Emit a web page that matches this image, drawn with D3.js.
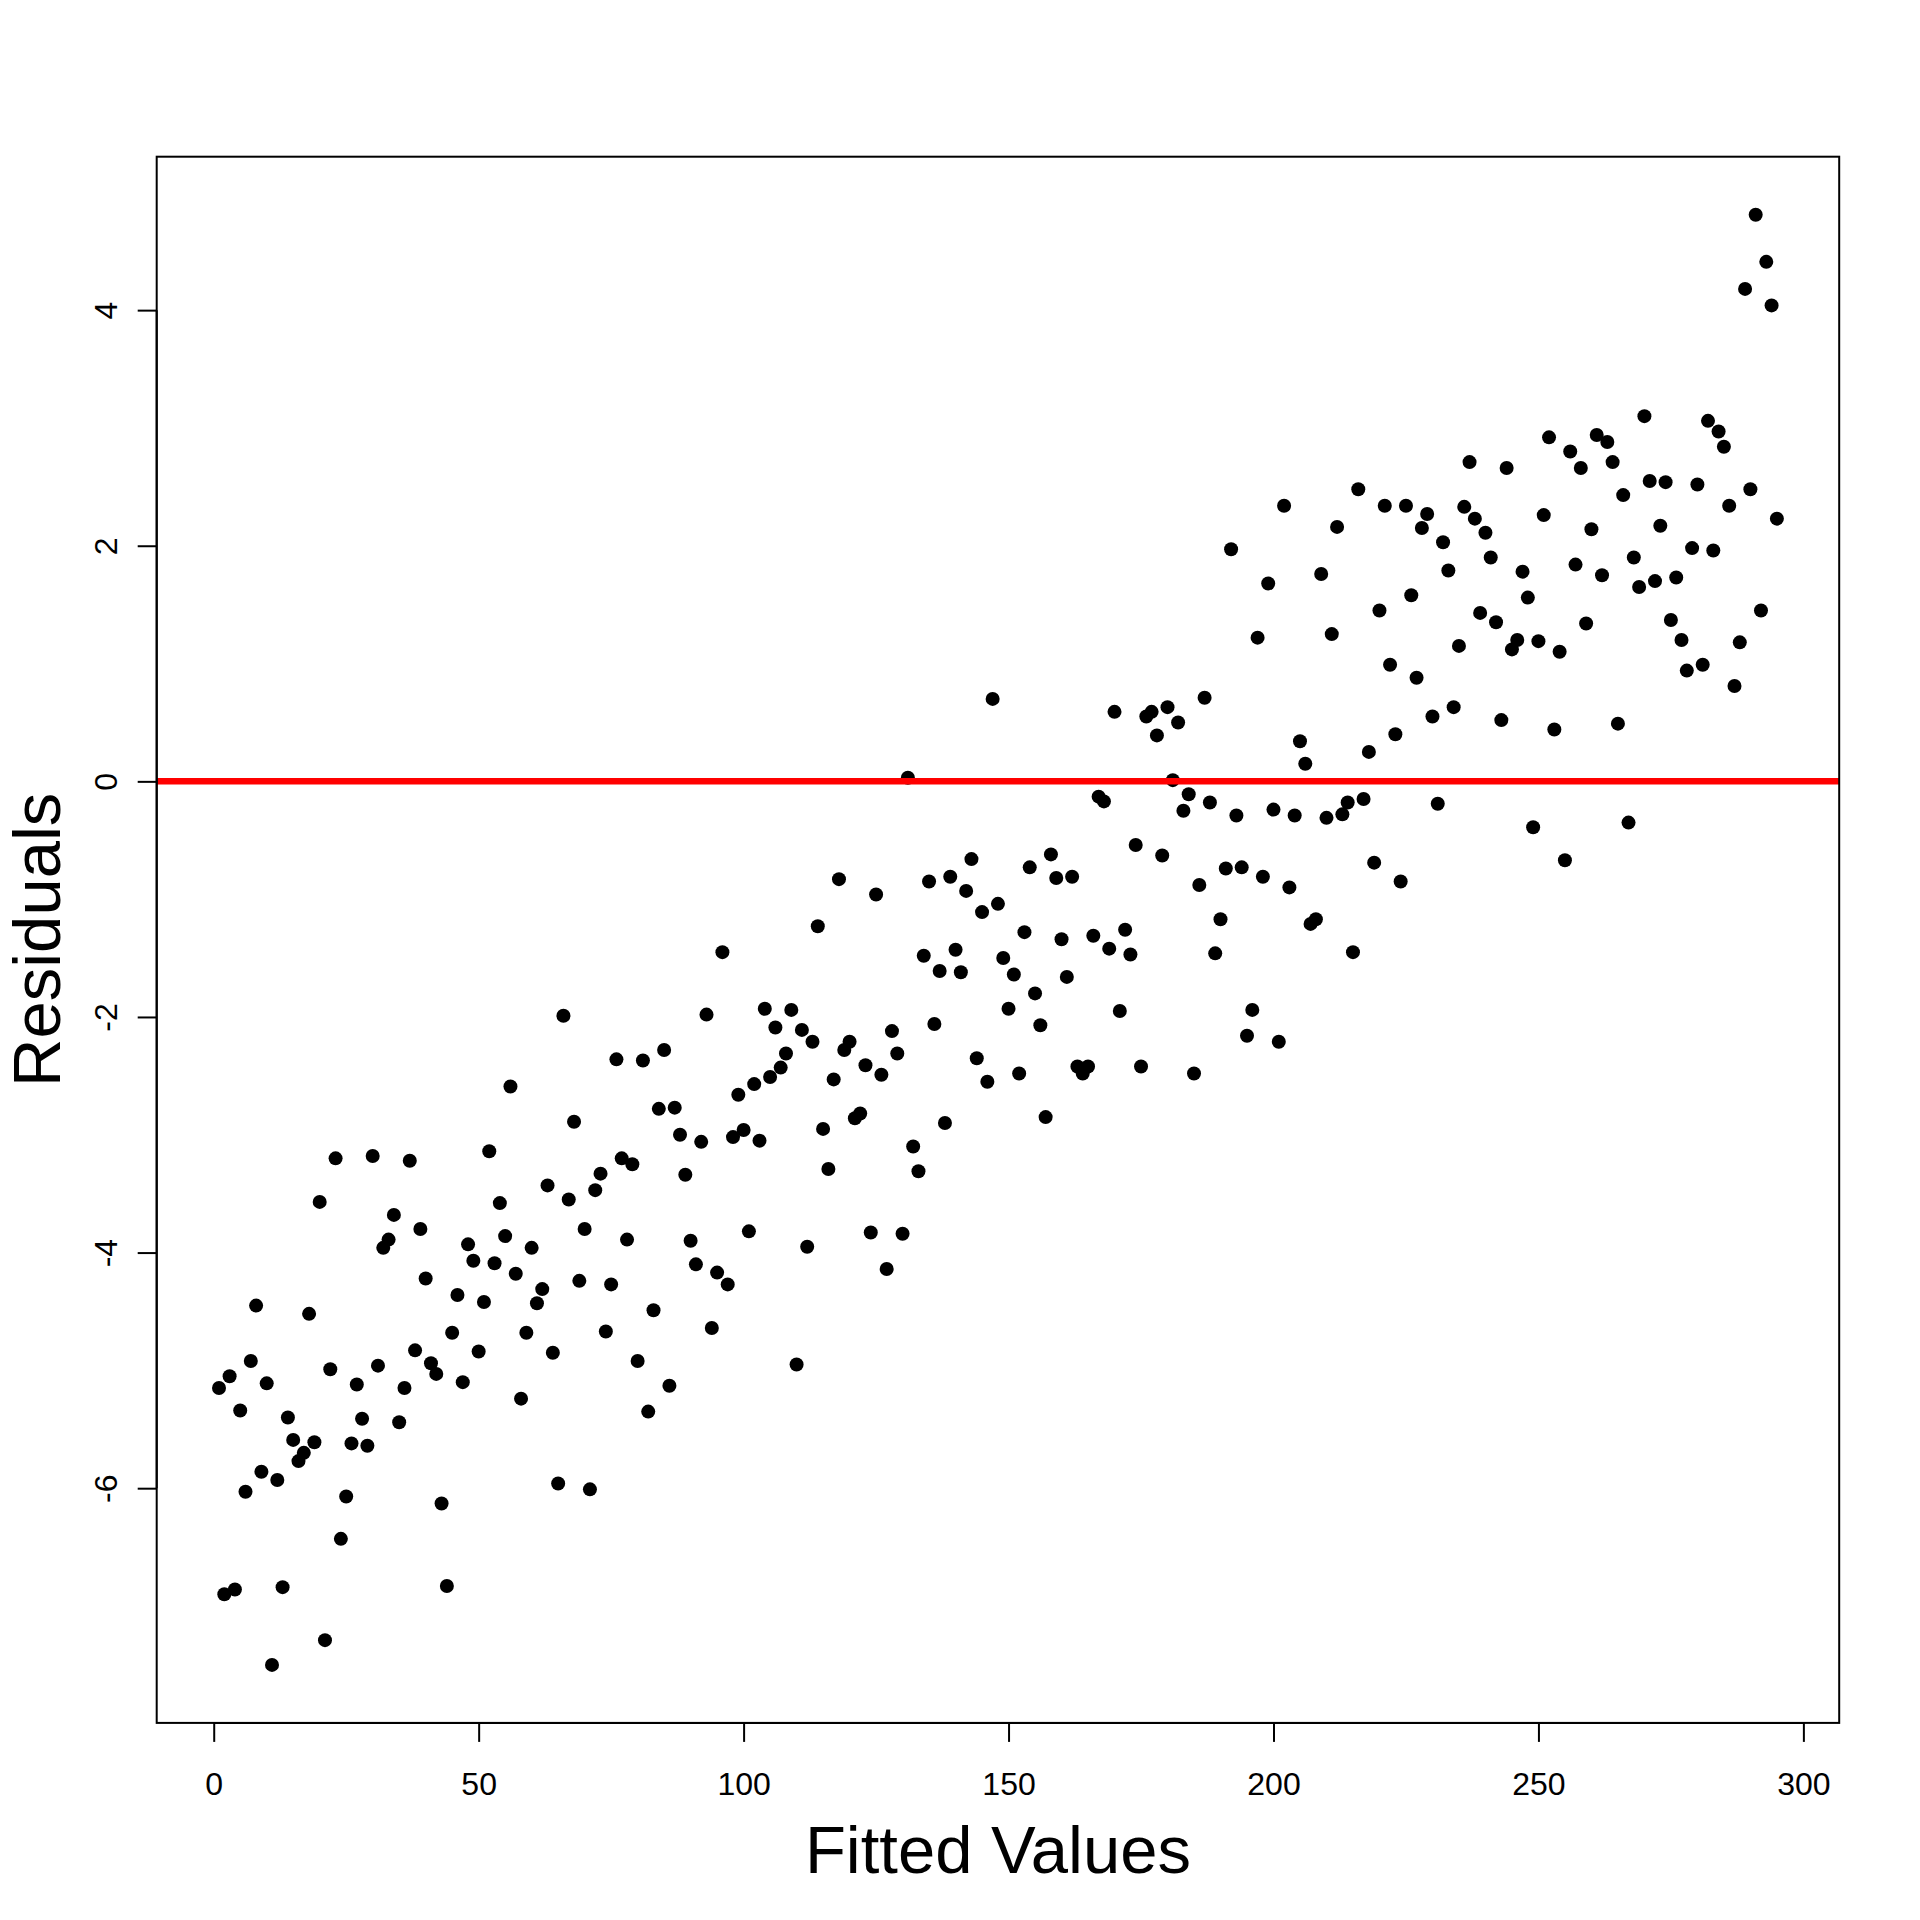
<!DOCTYPE html>
<html>
<head>
<meta charset="utf-8">
<script src="https://cdn.jsdelivr.net/npm/d3@7"></script>
<style>
  html, body { margin: 0; padding: 0; background: #ffffff; }
  svg { display: block; }
  text { font-family: "Liberation Sans", Arial, Helvetica, sans-serif; fill: #000; }
</style>
</head>
<body>
<svg id="chart" width="1920" height="1920"></svg>
<script>
// ---- data ----
const fittedValues = [
  1,2,3,4,5,6,7,8,9,10,11,12,13,14,15,16,17,18,19,20,
  21,22,23,24,25,26,27,28,29,30,31,32,33,34,35,36,37,38,39,40,
  41,42,43,44,45,46,47,48,49,50,51,52,53,54,55,56,57,58,59,60,
  61,62,63,64,65,66,67,68,69,70,71,72,73,74,75,76,77,78,79,80,
  81,82,83,84,85,86,87,88,89,90,91,92,93,94,95,96,97,98,99,100,
  101,102,103,104,105,106,107,108,109,110,111,112,113,114,115,116,117,118,119,120,
  121,122,123,124,125,126,127,128,129,130,131,132,133,134,135,136,137,138,139,140,
  141,142,143,144,145,146,147,148,149,150,151,152,153,154,155,156,157,158,159,160,
  161,162,163,164,165,166,167,168,169,170,171,172,173,174,175,176,177,178,179,180,
  181,182,183,184,185,186,187,188,189,190,191,192,193,194,195,196,197,198,199,200,
  201,202,203,204,205,206,207,208,209,210,211,212,213,214,215,216,217,218,219,220,
  221,222,223,224,225,226,227,228,229,230,231,232,233,234,235,236,237,238,239,240,
  241,242,243,244,245,246,247,248,249,250,251,252,253,254,255,256,257,258,259,260,
  261,262,263,264,265,266,267,268,269,270,271,272,273,274,275,276,277,278,279,280,
  281,282,283,284,285,286,287,288,289,290,291,292,293,294,295
];
const residuals = [
  -5.15,-6.90,-5.05,-6.86,-5.34,-6.03,-4.92,-4.45,-5.86,-5.11,
  -7.50,-5.93,-6.84,-5.40,-5.59,-5.77,-5.70,-4.52,-5.61,-3.57,
  -7.29,-4.99,-3.20,-6.43,-6.07,-5.62,-5.12,-5.41,-5.64,-3.18,
  -4.96,-3.96,-3.89,-3.68,-5.44,-5.15,-3.22,-4.83,-3.80,-4.22,
  -4.94,-5.03,-6.13,-6.83,-4.68,-4.36,-5.10,-3.93,-4.07,-4.84,
  -4.42,-3.14,-4.09,-3.58,-3.86,-2.59,-4.18,-5.24,-4.68,-3.96,
  -4.43,-4.31,-3.43,-4.85,-5.96,-1.99,-3.55,-2.89,-4.24,-3.80,
  -6.01,-3.47,-3.33,-4.67,-4.27,-2.36,-3.20,-3.89,-3.25,-4.92,
  -2.37,-5.35,-4.49,-2.78,-2.28,-5.13,-2.77,-3.00,-3.34,-3.90,
  -4.10,-3.06,-1.98,-4.64,-4.17,-1.45,-4.27,-3.02,-2.66,-2.96,
  -3.82,-2.57,-3.05,-1.93,-2.51,-2.09,-2.43,-2.31,-1.94,-4.95,
  -2.11,-3.95,-2.21,-1.23,-2.95,-3.29,-2.53,-0.83,-2.28,-2.21,
  -2.86,-2.82,-2.41,-3.83,-0.96,-2.49,-4.14,-2.12,-2.31,-3.84,
  0.03,-3.10,-3.31,-1.48,-0.85,-2.06,-1.61,-2.90,-0.81,-1.43,
  -1.62,-0.93,-0.66,-2.35,-1.11,-2.55,0.70,-1.04,-1.50,-1.93,
  -1.64,-2.48,-1.28,-0.73,-1.80,-2.07,-2.85,-0.62,-0.82,-1.34,
  -1.66,-0.81,-2.42,-2.48,-2.42,-1.31,-0.13,-0.17,-1.42,0.59,
  -1.95,-1.26,-1.47,-0.54,-2.42,0.55,0.59,0.39,-0.63,0.63,
  0.01,0.50,-0.25,-0.11,-2.48,-0.88,0.71,-0.18,-1.46,-1.17,
  -0.74,1.97,-0.29,-0.73,-2.16,-1.94,1.22,-0.81,1.68,-0.24,
  -2.21,2.34,-0.90,-0.29,0.34,0.15,-1.21,-1.17,1.76,-0.31,
  1.25,2.16,-0.28,-0.18,-1.45,2.48,-0.15,0.25,-0.69,1.45,
  2.34,0.99,0.40,-0.85,2.34,1.58,0.88,2.15,2.27,0.55,
  -0.19,2.03,1.79,0.63,1.15,2.33,2.71,2.23,1.43,2.11,
  1.90,1.35,0.52,2.66,1.12,1.20,1.78,1.56,-0.39,1.19,
  2.26,2.92,0.44,1.10,-0.67,2.80,1.84,2.66,1.34,2.14,
  2.94,1.75,2.88,2.71,0.49,2.43,-0.35,1.90,1.65,3.10,
  2.55,1.70,2.17,2.54,1.37,1.73,1.20,0.94,1.98,2.52,
  0.99,3.06,1.96,2.97,2.84,2.34,0.81,1.18,4.18,2.48,
  4.81,1.45,4.41,4.04,2.23
];
const xTicks = [0, 50, 100, 150, 200, 250, 300];
const yTicks = [-6, -4, -2, 0, 2, 4];
const referenceLine = [0];
const xLabel = "Fitted Values";
const yLabel = "Residuals";

// ---- layout ----
const plot = { left: 156.7, right: 1839.2, top: 156.7, bottom: 1722.9 };

const points = fittedValues.map((f, i) => ({ x: f, y: residuals[i] }));

function padExtent(ext) {
  const d = (ext[1] - ext[0]) * 0.04;
  return [ext[0] - d, ext[1] + d];
}

const x = d3.scaleLinear()
  .domain(padExtent(d3.extent(fittedValues)))
  .range([plot.left, plot.right]);
const y = d3.scaleLinear()
  .domain(padExtent(d3.extent(residuals)))
  .range([plot.bottom, plot.top]);

const svg = d3.select("#chart");
svg.append("rect").attr("width", 1920).attr("height", 1920).attr("fill", "#fff");

svg.append("defs").append("clipPath").attr("id", "clip")
  .append("rect")
  .attr("x", plot.left).attr("y", plot.top)
  .attr("width", plot.right - plot.left)
  .attr("height", plot.bottom - plot.top);

// points
svg.append("g")
  .selectAll("circle")
  .data(points)
  .join("circle")
  .attr("cx", d => x(d.x))
  .attr("cy", d => y(d.y))
  .attr("r", 7)
  .attr("fill", "#000");

// reference line
svg.append("g").attr("clip-path", "url(#clip)")
  .selectAll("line")
  .data(referenceLine)
  .join("line")
  .attr("x1", plot.left).attr("x2", plot.right)
  .attr("y1", d => y(d)).attr("y2", d => y(d))
  .attr("stroke", "#ff0000")
  .attr("stroke-width", 6.5);

// box
svg.append("rect")
  .attr("x", plot.left).attr("y", plot.top)
  .attr("width", plot.right - plot.left)
  .attr("height", plot.bottom - plot.top)
  .attr("fill", "none")
  .attr("stroke", "#000")
  .attr("stroke-width", 2);

const fmt = d => d3.format("d")(d).replace("\u2212", "-");

// x axis
const xAxis = d3.axisBottom(x).tickValues(xTicks).tickSize(19).tickPadding(0).tickFormat(fmt);
const gx = svg.append("g").attr("transform", `translate(0,${plot.bottom})`).call(xAxis);
gx.select(".domain").attr("d", `M${x(xTicks[0])},0H${x(xTicks[xTicks.length - 1])}`)
  .attr("stroke", "#000").attr("stroke-width", 2);
gx.selectAll(".tick line").attr("stroke", "#000").attr("stroke-width", 2);
gx.selectAll(".tick text")
  .attr("y", 72).attr("dy", null)
  .attr("font-size", 32)
  .attr("font-family", "'Liberation Sans', Arial, Helvetica, sans-serif")
  .attr("fill", "#000");

// y axis
const yAxis = d3.axisLeft(y).tickValues(yTicks).tickSize(19).tickPadding(0).tickFormat(fmt);
const gy = svg.append("g").attr("transform", `translate(${plot.left},0)`).call(yAxis);
gy.select(".domain").attr("d", `M0,${y(yTicks[0])}V${y(yTicks[yTicks.length - 1])}`)
  .attr("stroke", "#000").attr("stroke-width", 2);
gy.selectAll(".tick line").attr("stroke", "#000").attr("stroke-width", 2);
gy.selectAll(".tick text")
  .attr("x", null).attr("dy", null)
  .attr("text-anchor", "middle")
  .attr("transform", `translate(${117 - plot.left},0) rotate(-90)`)
  .attr("font-size", 32)
  .attr("font-family", "'Liberation Sans', Arial, Helvetica, sans-serif")
  .attr("fill", "#000");

// axis titles
svg.append("text")
  .attr("x", (plot.left + plot.right) / 2)
  .attr("y", 1873)
  .attr("text-anchor", "middle")
  .attr("font-size", 67)
  .text(xLabel);

svg.append("text")
  .attr("transform", `translate(60,${(plot.top + plot.bottom) / 2}) rotate(-90)`)
  .attr("text-anchor", "middle")
  .attr("font-size", 67)
  .text(yLabel);
</script>
</body>
</html>
